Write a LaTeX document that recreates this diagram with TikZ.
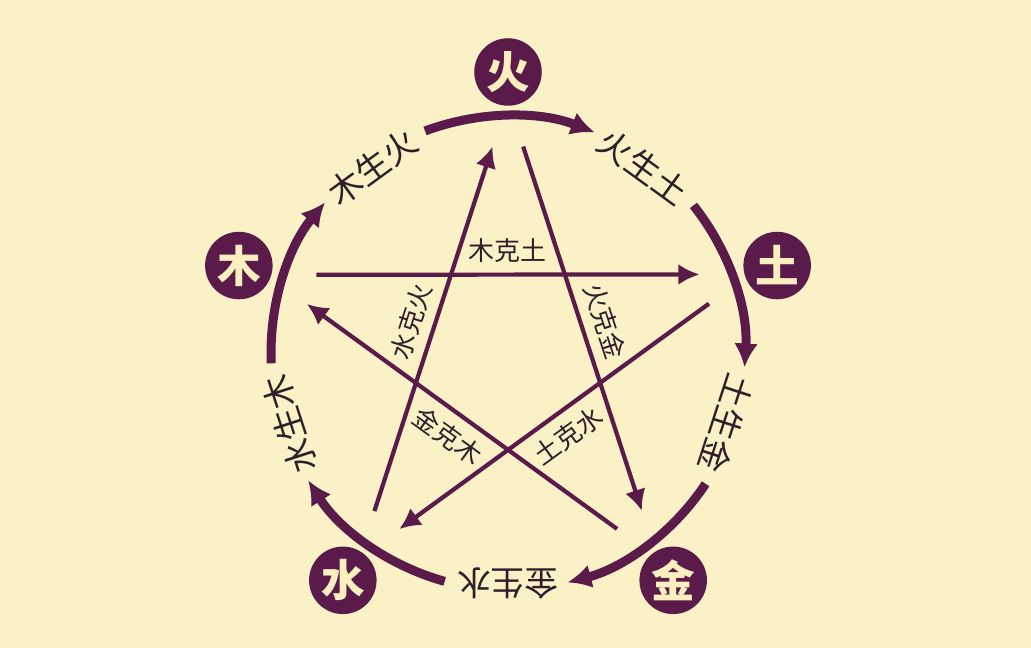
\documentclass[tikz,border=0pt]{standalone}
\usepackage{fontspec}
\usepackage{xcolor}
\usepackage{tikz}
\usetikzlibrary{calc}
\usetikzlibrary{arrows.meta}
\usetikzlibrary{positioning}
\newfontfamily\cjk{Noto Sans CJK SC}
\definecolor{paper}{HTML}{FBF1C6}
\definecolor{plum}{HTML}{5A1A4A}
\definecolor{ink}{HTML}{2E1F2A}
\definecolor{glyph}{HTML}{FBEFC0}
\tikzset{>=latex}
\tikzstyle{elem} = [circle, fill=plum, minimum size=48pt, inner sep=0pt, text=glyph, font=\cjk\bfseries\fontsize{31}{31}\selectfont]
\tikzstyle{sheng} = [line width=6.4pt, draw=plum, -{Latex[length=17pt,width=17pt]}]
\tikzstyle{ke} = [line width=3pt, draw=plum, -{Latex[length=15pt,width=15pt]}]
\tikzstyle{shenglabel} = [text=ink, inner sep=0pt, font=\cjk\fontsize{24}{24}\selectfont]
\tikzstyle{kelabel} = [text=ink, inner sep=3pt, font=\cjk\fontsize{18.5}{18.5}\selectfont]

\begin{document}
\begin{tikzpicture}[x=0.025cm, y=0.025cm]
\fill [paper] (0,0) rectangle (1031,648);
\useasboundingbox (0,0) rectangle (1031,648);
\coordinate (c) at (508,295);
% the five elements
\node [elem] (huo) at ($(c)+(90:281)$) {火};
\node [elem] (tu) at ($(c)+(18:283)$) {土};
\node [elem] (jin) at ($(c)+(-54:281)$) {金};
\node [elem] (shui) at ($(c)+(-126:281)$) {水};
\node [elem] (mu) at ($(c)+(162:283)$) {木};
% generating cycle
\foreach \a in {90,18,-54,-126,162}
  \draw [sheng] ($(c)+({\a+20.5}:237)$) arc [start angle=\a+20.5, end angle=\a-21.5, radius=237];
\foreach \a/\t/\n in {54/火生土/huotu, -18/土生金/tujin, -90/金生水/jinshui, -162/水生木/shuimu, 126/木生火/muhuo}
  \node [shenglabel, rotate=\a-90] (\n) at ($(c)+(\a:230)$) {\t};
% star ends
\foreach \a/\n in {90/huo, 18/tu, -54/jin, -126/shui, 162/mu} {
  \coordinate (\n-in) at ($(c)+({\a+4.3}:207)$);
  \coordinate (\n-out) at ($(c)+({\a-4.2}:207)$);
}
% controlling cycle
\draw [ke] (mu-out) -- node [kelabel, above=4pt, sloped] (muke) {木克土} (tu-in);
\draw [ke] (tu-out) -- node [kelabel, below=4pt, sloped] (tuke) {土克水} (shui-in);
\draw [ke] (shui-out) -- node [kelabel, above=4pt, sloped] (shuike) {水克火} (huo-in);
\draw [ke] (huo-out) -- node [kelabel, above=4pt, sloped] (huoke) {火克金} (jin-in);
\draw [ke] (jin-out) -- node [kelabel, below=4pt, sloped] (jinke) {金克木} (mu-in);
\end{tikzpicture}
\end{document}
